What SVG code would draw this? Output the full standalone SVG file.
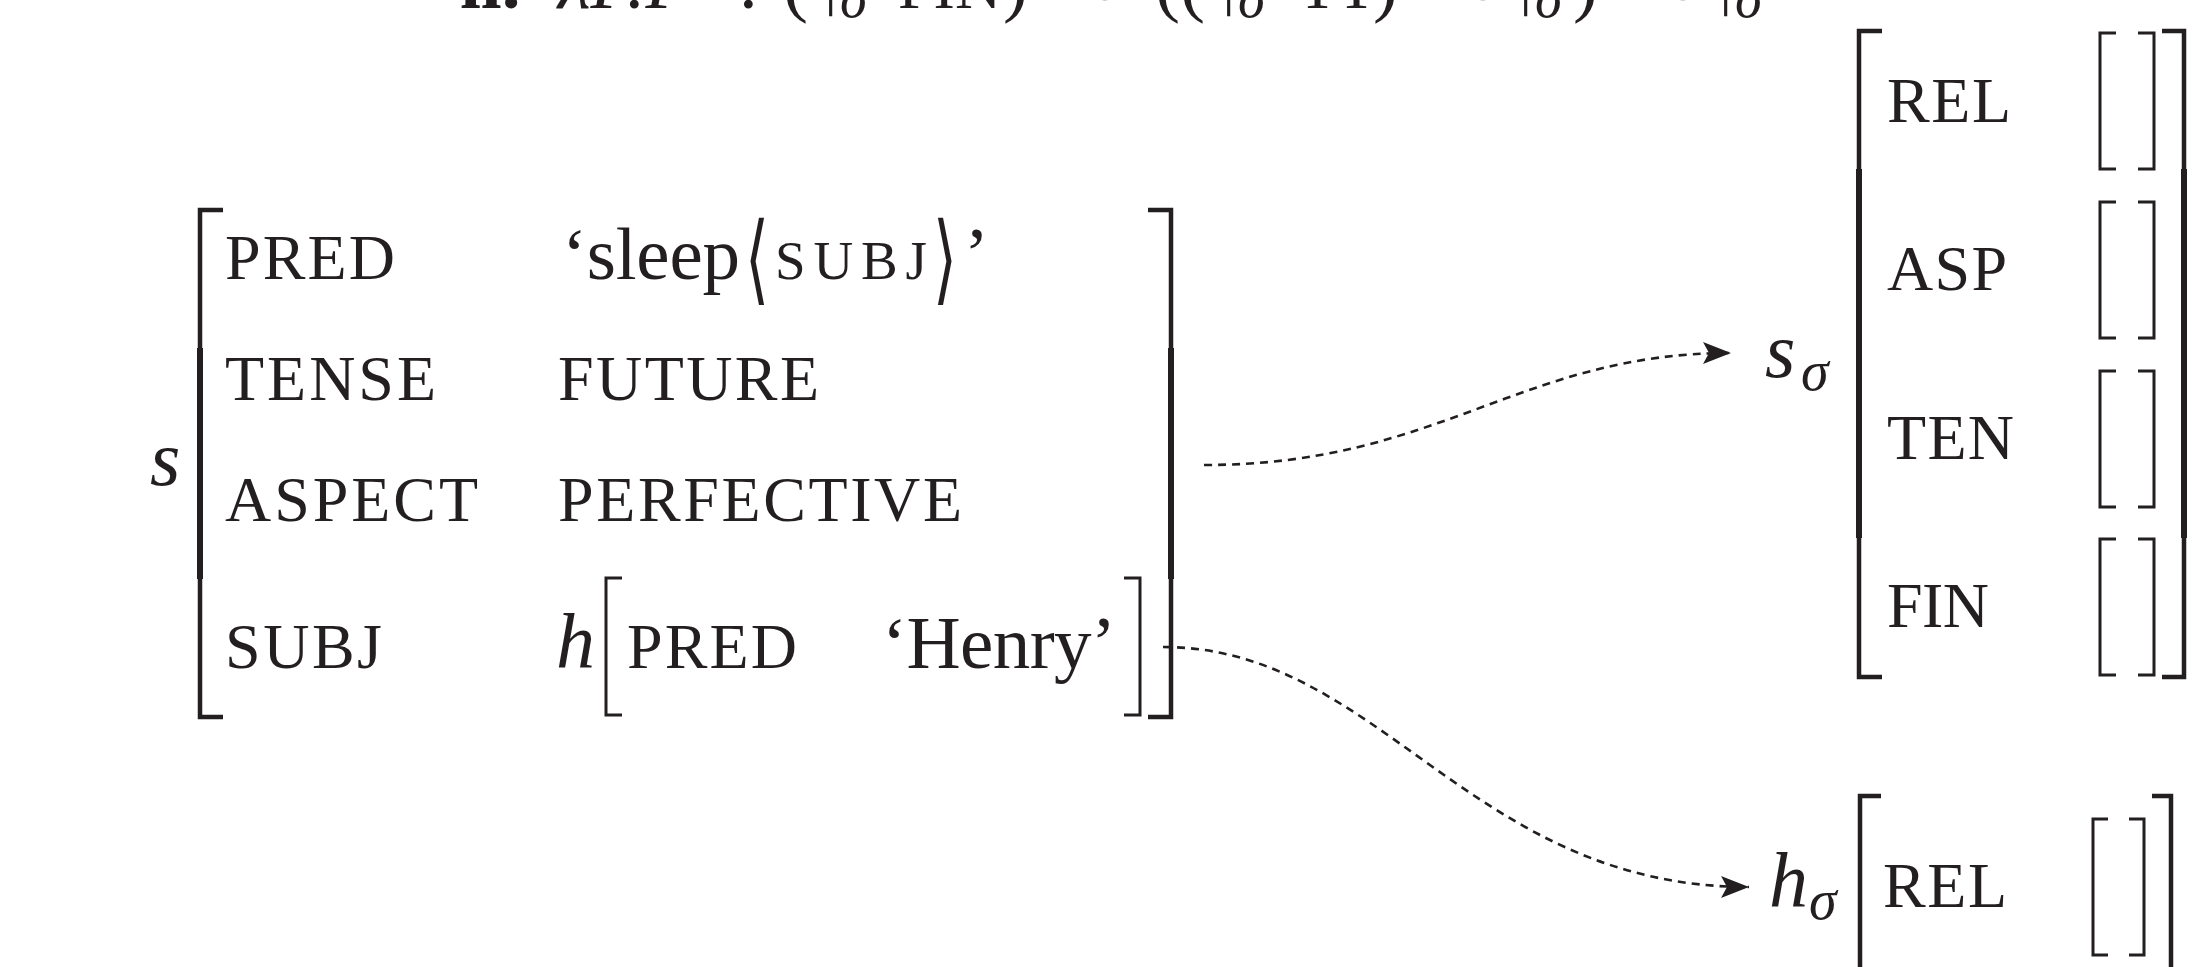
<svg xmlns="http://www.w3.org/2000/svg" width="2203" height="967" viewBox="0 0 2203 967">
<style>
.t{font-family:"Liberation Serif","DejaVu Serif",serif;fill:#231f20}
.sc{font-size:64px}
.rm{font-size:75px}
.small{font-size:55px}
.it{font-style:italic}
.mi{font-size:78px;font-style:italic}
.sub{font-size:56px;font-style:italic}
.ang{font-family:"DejaVu Sans",sans-serif;font-size:72px;fill:#231f20}
.tall{font-family:"DejaVu Sans",sans-serif;font-size:98px;fill:#231f20}
.br{fill:none;stroke:#231f20;stroke-width:4.5}
.brm{fill:none;stroke:#231f20;stroke-width:6}
.ibr{fill:none;stroke:#231f20;stroke-width:3}
.conn{fill:none;stroke:#231f20;stroke-width:2.6;stroke-dasharray:8 6}
</style>
<defs>
<marker id="arr" markerUnits="userSpaceOnUse" markerWidth="30" markerHeight="24" refX="28" refY="11" orient="auto">
<path d="M0,0 L28,11 L0,22 L6,11 Z" fill="#231f20"/>
</marker>
</defs>
<rect width="2203" height="967" fill="#ffffff"/>

<g id="top-formula">
<text class="t rm" y="8"><tspan x="460" font-weight="bold">ii.</tspan><tspan x="558" font-style="italic">λP.P</tspan><tspan x="738">:</tspan><tspan x="783">(</tspan><tspan x="812" dy="6">↑</tspan><tspan x="840" dy="3" class="sub">σ</tspan><tspan x="898" dy="-9" class="sc">FIN</tspan><tspan x="1003">)</tspan><tspan x="1058" dy="5" class="ang">⊸</tspan><tspan x="1155" dy="-5">((</tspan><tspan x="1210" dy="6">↑</tspan><tspan x="1238" dy="3" class="sub">σ</tspan><tspan x="1298" dy="-9" class="sc">TT</tspan><tspan x="1373">)</tspan><tspan x="1436" dy="5" class="ang">⊸</tspan><tspan x="1507" dy="1">↑</tspan><tspan x="1535" dy="3" class="sub">σ</tspan><tspan x="1573" dy="-9">)</tspan><tspan x="1636" dy="5" class="ang">⊸</tspan><tspan x="1707" dy="1">↑</tspan><tspan x="1735" dy="3" class="sub">σ</tspan></text>
</g>

<g id="f-structure-s">
<text class="t mi" x="150" y="485">s</text>
<path class="br" d="M223 210 H200 V717 H223"/>
<path class="brm" d="M200 348 V579"/>
<path class="br" d="M1148 210 H1171 V717 H1148"/>
<path class="brm" d="M1171 348 V579"/>
<text class="t sc" x="225" y="279" textLength="170">PRED</text>
<text class="t rm" x="562" y="279" textLength="178">‘sleep</text>
<text class="tall" x="745" y="292" textLength="24" lengthAdjust="spacingAndGlyphs">⟨</text>
<text class="t small" x="775" y="279" textLength="152">SUBJ</text>
<text class="tall" x="933" y="292" textLength="24" lengthAdjust="spacingAndGlyphs">⟩</text>
<text class="t rm" x="964" y="279">’</text>
<text class="t sc" x="225" y="400" textLength="211">TENSE</text>
<text class="t sc" x="558" y="400" textLength="261">FUTURE</text>
<text class="t sc" x="225" y="521" textLength="253">ASPECT</text>
<text class="t sc" x="558" y="521" textLength="404">PERFECTIVE</text>
<text class="t sc" x="225" y="668" textLength="157">SUBJ</text>
<g id="f-structure-h">
<text class="t mi" x="556" y="668">h</text>
<path class="ibr" d="M622 578 H606 V715 H622"/>
<path class="ibr" d="M1124 578 H1140 V715 H1124"/>
<text class="t sc" x="627" y="668" textLength="170">PRED</text>
<text class="t rm" x="882" y="668" textLength="234">‘Henry’</text>
</g>
</g>

<g id="s-structure-s">
<text class="t mi" x="1765" y="377">s</text>
<text class="t sub" x="1801" y="390">σ</text>
<path class="br" d="M1882 31 H1859 V677 H1882"/>
<path class="brm" d="M1859 169 V538"/>
<path class="br" d="M2162 31 H2184 V677 H2162"/>
<path class="brm" d="M2184 169 V538"/>
<text class="t sc" x="1887" y="122" textLength="124">REL</text>
<text class="t sc" x="1887" y="290" textLength="120">ASP</text>
<text class="t sc" x="1887" y="459" textLength="127">TEN</text>
<text class="t sc" x="1887" y="627" textLength="102">FIN</text>
<path class="ibr" d="M2116 33 H2100 V169 H2116 M2138 33 H2154 V169 H2138"/>
<path class="ibr" d="M2116 202 H2100 V338 H2116 M2138 202 H2154 V338 H2138"/>
<path class="ibr" d="M2116 371 H2100 V507 H2116 M2138 371 H2154 V507 H2138"/>
<path class="ibr" d="M2116 539 H2100 V675 H2116 M2138 539 H2154 V675 H2138"/>
</g>

<g id="s-structure-h">
<text class="t mi" x="1769" y="907">h</text>
<text class="t sub" x="1809" y="919">σ</text>
<path class="br" d="M1881 796 H1860 V980"/>
<path class="br" d="M2152 796 H2171 V980"/>
<text class="t sc" x="1883" y="907" textLength="124">REL</text>
<path class="ibr" d="M2108 819 H2093 V955 H2108 M2129 819 H2144 V955 H2129"/>
</g>

<g id="connectors">
<path class="conn" d="M1204 465 C1440 465 1520 353 1731 353" marker-end="url(#arr)"/>
<path class="conn" d="M1163 647 C1380 647 1470 887 1749 887" marker-end="url(#arr)"/>
</g>
</svg>
